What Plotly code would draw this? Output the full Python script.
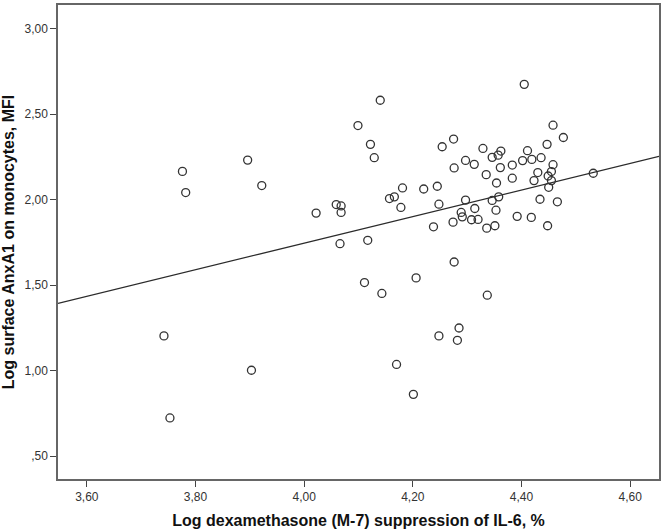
import plotly.graph_objects as go

# scatter values (log dexamethasone suppression vs log AnxA1)
dex_x = [
    3.776, 3.782, 3.896, 3.922, 4.022,
    3.742, 3.753, 3.903,
    4.111, 4.206, 4.143, 4.337, 4.285, 4.248, 4.282, 4.170, 4.201,
    4.405, 4.140, 4.099, 4.458, 4.477, 4.122, 4.129, 4.275, 4.254, 4.329,
    4.447, 4.362, 4.357, 4.346, 4.411, 4.297, 4.313, 4.276, 4.361, 4.383,
    4.402, 4.419, 4.436, 4.458, 4.335, 4.383, 4.430, 4.455, 4.449, 4.423,
    4.455, 4.354, 4.450, 4.532, 4.181, 4.220, 4.245, 4.157, 4.166, 4.178,
    4.248, 4.059, 4.068, 4.068, 4.297, 4.358, 4.346, 4.434, 4.466, 4.314,
    4.353, 4.289, 4.291, 4.308, 4.320, 4.274, 4.392, 4.418, 4.238, 4.336,
    4.351, 4.448, 4.066, 4.117, 4.276,
]
anx_y = [
    2.165, 2.041, 2.231, 2.082, 1.921,
    1.203, 0.723, 1.002,
    1.515, 1.542, 1.451, 1.441, 1.249, 1.203, 1.177, 1.036, 0.861,
    2.674, 2.581, 2.433, 2.435, 2.363, 2.323, 2.245, 2.354, 2.309, 2.299,
    2.323, 2.284, 2.260, 2.247, 2.286, 2.229, 2.206, 2.185, 2.187, 2.202,
    2.228, 2.235, 2.245, 2.204, 2.146, 2.125, 2.158, 2.164, 2.138, 2.111,
    2.111, 2.097, 2.072, 2.154, 2.068, 2.062, 2.078, 2.006, 2.016, 1.954,
    1.973, 1.971, 1.963, 1.925, 1.997, 2.016, 1.995, 2.002, 1.987, 1.948,
    1.938, 1.925, 1.899, 1.882, 1.884, 1.868, 1.902, 1.896, 1.841, 1.833,
    1.847, 1.847, 1.742, 1.762, 1.635,
]

# fitted regression line (as drawn in the reference)
fit_intercept = -1.367
fit_slope = 0.778

x_range = [3.547, 4.653]
y_range = [0.366, 3.138]

x_ticks = [3.6, 3.8, 4.0, 4.2, 4.4, 4.6]
x_ticktext = ["3,60", "3,80", "4,00", "4,20", "4,40", "4,60"]
y_ticks = [0.5, 1.0, 1.5, 2.0, 2.5, 3.0]
y_ticktext = [",50", "1,00", "1,50", "2,00", "2,50", "3,00"]

fit_x = x_range
fit_y = [fit_intercept + fit_slope * v for v in fit_x]

fig = go.Figure()
fig.add_trace(go.Scatter(
    x=fit_x, y=fit_y, mode="lines",
    line=dict(color="#2b2b2b", width=1.2),
    hoverinfo="skip", showlegend=False,
))
fig.add_trace(go.Scatter(
    x=dex_x, y=anx_y, mode="markers",
    marker=dict(symbol="circle-open", size=8, color="#333333",
                line=dict(width=1.3, color="#333333")),
    showlegend=False,
))

axis_common = dict(
    showgrid=False, zeroline=False,
    showline=True, linecolor="#666666", linewidth=1.5, mirror=True,
    ticks="outside", ticklen=6, tickcolor="#444444", tickwidth=1,
    tickfont=dict(family="Liberation Sans, Arial", size=12, color="#333333"),
)

fig.update_xaxes(
    range=x_range, tickvals=x_ticks, ticktext=x_ticktext,
    title=dict(text="<b>Log dexamethasone (M-7) suppression of IL-6, %</b>",
               font=dict(family="Liberation Sans, Arial", size=16, color="#111111"),
               standoff=12),
    **axis_common,
)
fig.update_yaxes(
    range=y_range, tickvals=y_ticks, ticktext=y_ticktext,
    title=dict(text="<b>Log surface AnxA1 on monocytes, MFI</b>",
               font=dict(family="Liberation Sans, Arial", size=16, color="#111111"),
               standoff=6),
    **axis_common,
)

fig.update_layout(
    width=664, height=532,
    margin=dict(l=58, r=5, t=3, b=53),
    plot_bgcolor="white", paper_bgcolor="white",
)

# drop the default page margin so the figure sits at the window's corner
fig.write_html("out.html", config={"displayModeBar": False},
               post_script="document.body.style.margin = '0';")
